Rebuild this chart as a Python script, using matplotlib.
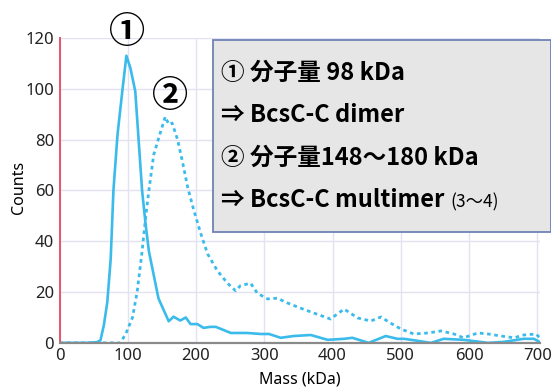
import matplotlib
matplotlib.use("Agg")
import matplotlib.pyplot as plt
from matplotlib.patches import Rectangle
from matplotlib.text import Annotation

plt.rcParams['font.family'] = ['Noto Sans CJK JP', 'DejaVu Sans']

# peak 1 (solid): mass (kDa) vs counts
mass_1 = [0, 20, 40, 55, 60, 65, 70, 75, 79, 85, 92, 98, 104, 111, 121, 126, 131,
          145, 160, 167, 177, 185, 192, 202, 211, 221, 229, 251, 275, 295, 307, 324,
          343, 368, 393, 417, 429, 453, 478, 495, 505, 525, 544, 563, 592, 628, 651,
          680, 695, 704]
counts_1 = [0, 0, 0, 0.3, 1, 7, 16, 33, 60, 82, 99, 113, 108, 99, 60, 47, 36,
            17.5, 8.5, 10.3, 8.8, 10, 7.4, 7.4, 5.9, 6.3, 6.3, 3.9, 3.9, 3.5, 3.5, 2,
            2.7, 3.1, 1.2, 1.6, 2, 0, 2.7, 1.6, 1.6, 0.8, 0, 1.6, 1.2, 0, 0.4,
            1.6, 1.6, 0.3]

# peak 2 (dotted)
mass_2 = [0, 40, 85, 89, 97, 107, 114, 121, 126, 131, 138, 148, 155, 160, 165,
          173, 180, 188, 197, 207, 217, 231, 246, 258, 265, 280, 290, 305, 319,
          334, 353, 372, 397, 417, 437, 456, 471, 485, 500, 519, 540, 559, 578,
          592, 613, 628, 647, 666, 680, 698, 704]
counts_2 = [0, 0, 0, 0, 3.5, 10, 20.5, 36, 49, 60, 74, 83, 89, 86, 86.5,
            80, 71.5, 61, 52, 43, 35, 28.5, 23.5, 20.5, 22.5, 23.5, 19.5, 17.3, 17.6,
            15.7, 13.7, 11.8, 9.4, 13.3, 9.8, 8.6, 10.2, 7.8, 5.5, 3.5, 3.9, 4.7, 3.5,
            2, 3.9, 3.5, 2.7, 2, 3.1, 3.5, 2]

x_ticks = [0, 100, 200, 300, 400, 500, 600, 700]
y_ticks = [0, 20, 40, 60, 80, 100, 120]

box_lines = ["① 分子量 98 kDa", "⇒ BcsC-C dimer", "② 分子量148～180 kDa", "⇒ BcsC-C multimer"]

blue = "#3bbbec"

fig = plt.figure(figsize=(5.51, 3.87), dpi=100)
ax = fig.add_axes([0.108, 0.114, 0.872, 0.788])

ax.plot(mass_1, counts_1, color=blue, lw=1.9, solid_joinstyle='round')
ax.plot(mass_2, counts_2, color=blue, lw=2.0, linestyle=(0, (1.3, 1.3)))

ax.set_xlim(0, 704)
ax.set_ylim(0, 120)
ax.set_xticks(x_ticks)
ax.set_yticks(y_ticks)
ax.tick_params(length=0, labelsize=12, labelcolor="#222222", pad=4)
for lab in ax.get_xticklabels() + ax.get_yticklabels():
    lab.set_family(['Noto Sans', 'DejaVu Sans'])
ax.grid(True, color="#e2e2f2", lw=1.0)
ax.set_axisbelow(True)
for s in ['top', 'right']:
    ax.spines[s].set_visible(False)
ax.spines['left'].set_color("#e8556a")
ax.spines['left'].set_linewidth(1.4)
ax.spines['bottom'].set_color("#8a8a8a")
ax.spines['bottom'].set_linewidth(1.6)

ax.set_xlabel("Mass (kDa)", fontsize=11.5, family=['Noto Sans', 'DejaVu Sans'], labelpad=5)
ax.set_ylabel("Counts", fontsize=11.5, family=['Noto Sans', 'DejaVu Sans'])
ax.yaxis.set_label_coords(-0.068, 0.51)

# peak markers
fig.text(127 / 551, 1 - 33 / 387, "①", fontsize=26, fontweight='bold', ha='center', va='center')
fig.text(170 / 551, 1 - 96 / 387, "②", fontsize=26, fontweight='bold', ha='center', va='center')

# annotation box
fig.patches.append(Rectangle((213 / 551, 1 - 232 / 387), 338 / 551, 192 / 387,
                             transform=fig.transFigure, facecolor="#e6e6e6",
                             edgecolor="#6f82b4", lw=1.3, zorder=5))
ys = [73, 115, 158, 200]
last = None
for txt, yy in zip(box_lines, ys):
    last = fig.text(221 / 551, 1 - yy / 387, txt, fontsize=17, fontweight='bold',
                    ha='left', va='center', zorder=6)
note = Annotation("(3～4)", xy=(1, 0.42), xycoords=last, xytext=(4, 0),
                  textcoords='offset points', fontsize=12.5, ha='left', va='center',
                  annotation_clip=False)
note.set_zorder(7)
fig.add_artist(note)

fig.savefig("out.png", dpi=100)
